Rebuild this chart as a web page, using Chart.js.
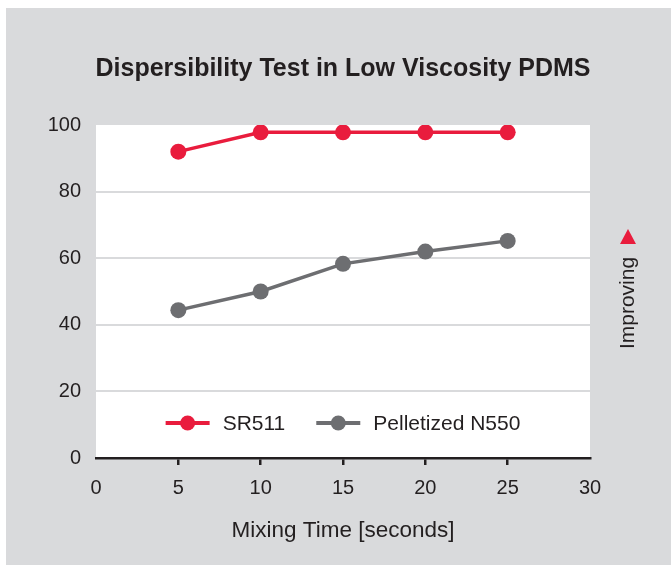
<!DOCTYPE html>
<html>
<head>
<meta charset="utf-8">
<script src="https://cdn.jsdelivr.net/npm/chart.js@4.4.1/dist/chart.umd.min.js"></script>
<style>
  html, body { margin: 0; padding: 0; background: #fff; }
  #panel { position: absolute; left: 6px; top: 8px; width: 665px; height: 557px; background: #d9dadc; }
  #panel canvas { display: block; }
</style>
</head>
<body>
<div id="panel"><canvas id="dispChart" width="665" height="557"></canvas></div>
<script>
const mixingTimes = [5, 10, 15, 20, 25];
const sr511 = [92, 97.8, 97.8, 97.8, 97.8];
const pelletizedN550 = [44.4, 50, 58.3, 62, 65.2];
const xTicks = [0, 5, 10, 15, 20, 25, 30];
const yTicks = [0, 20, 40, 60, 80, 100];
const chartTitle = "Dispersibility Test in Low Viscosity PDMS";

const red = "#e91c3d";
const grey = "#6d6e71";
const ink = "#231f20";
const gridGrey = "#d9dadc";
const fontFamily = "'Liberation Sans', Arial, Helvetica, sans-serif";

// white plot area on the grey panel, title centred over the plot
const plotBg = {
  id: "plotBg",
  beforeDraw(chart) {
    const { ctx, chartArea: a } = chart;
    ctx.save();
    ctx.fillStyle = "#fff";
    ctx.fillRect(a.left, a.top, a.right - a.left, a.bottom - a.top);
    ctx.font = `bold 25px ${fontFamily}`;
    ctx.fillStyle = ink;
    ctx.textAlign = "center";
    ctx.textBaseline = "middle";
    ctx.fillText(chartTitle, (a.left + a.right) / 2, 61);
    ctx.restore();
  },
};

// legend sits inside the plot, centred near the bottom
const innerLegend = {
  id: "innerLegend",
  afterDatasetsDraw(chart) {
    const { ctx, chartArea: a } = chart;
    const sets = chart.data.datasets;
    const lineLen = 44, gapText = 13, gapItem = 31;
    ctx.save();
    ctx.font = `21px ${fontFamily}`;
    ctx.textBaseline = "middle";
    const widths = sets.map((d) => lineLen + gapText + ctx.measureText(d.label).width);
    const total = widths.reduce((s, w) => s + w, 0) + gapItem * (sets.length - 1);
    let x = (a.left + a.right) / 2 - total / 2;
    const y = a.top + 298;
    sets.forEach((d, i) => {
      ctx.strokeStyle = d.borderColor;
      ctx.lineWidth = 4;
      ctx.beginPath();
      ctx.moveTo(x, y);
      ctx.lineTo(x + lineLen, y);
      ctx.stroke();
      ctx.fillStyle = d.borderColor;
      ctx.beginPath();
      ctx.arc(x + lineLen / 2, y, 7.5, 0, Math.PI * 2);
      ctx.fill();
      ctx.fillStyle = ink;
      ctx.fillText(d.label, x + lineLen + gapText, y + 1);
      x += widths[i] + gapItem;
    });
    ctx.restore();
  },
};

// "Improving" marker on the right
const improving = {
  id: "improving",
  afterDraw(chart) {
    const { ctx } = chart;
    const cx = 622;
    ctx.save();
    ctx.fillStyle = red;
    ctx.beginPath();
    ctx.moveTo(cx, 221);
    ctx.lineTo(cx + 8, 236);
    ctx.lineTo(cx - 8, 236);
    ctx.closePath();
    ctx.fill();
    ctx.translate(cx, 295);
    ctx.rotate(-Math.PI / 2);
    ctx.font = `21px ${fontFamily}`;
    ctx.fillStyle = ink;
    ctx.textAlign = "center";
    ctx.textBaseline = "middle";
    ctx.fillText("Improving", 0, 0);
    ctx.restore();
  },
};

new Chart(document.getElementById("dispChart"), {
  type: "line",
  data: {
    datasets: [
      {
        label: "SR511",
        data: mixingTimes.map((t, i) => ({ x: t, y: sr511[i] })),
        borderColor: red,
        backgroundColor: red,
        borderWidth: 3.5,
        pointRadius: 8,
        pointHoverRadius: 8,
        pointBorderWidth: 0,
      },
      {
        label: "Pelletized N550",
        data: mixingTimes.map((t, i) => ({ x: t, y: pelletizedN550[i] })),
        borderColor: grey,
        backgroundColor: grey,
        borderWidth: 3.5,
        pointRadius: 8,
        pointHoverRadius: 8,
        pointBorderWidth: 0,
      },
    ],
  },
  options: {
    responsive: false,
    animation: false,
    layout: { padding: { left: 0, right: 81, top: 117, bottom: 0 } },
    plugins: {
      legend: { display: false },
      tooltip: { enabled: false },
      title: { display: false },
    },
    scales: {
      x: {
        type: "linear",
        min: xTicks[0],
        max: xTicks[xTicks.length - 1],
        afterBuildTicks: (s) => { s.ticks = xTicks.map((v) => ({ value: v })); },
        afterFit: (s) => { s.height = 107; },
        border: { display: true, color: ink, width: 2.5 },
        grid: {
          drawOnChartArea: false,
          drawTicks: true,
          tickLength: 7,
          lineWidth: 2.5,
          color: (c) => (c.tick && c.tick.value > xTicks[0] && c.tick.value < xTicks[xTicks.length - 1] ? ink : "rgba(0,0,0,0)"),
        },
        ticks: { color: ink, padding: 11, font: { family: fontFamily, size: 20 }, maxRotation: 0 },
        title: {
          display: true,
          text: "Mixing Time [seconds]",
          color: ink,
          font: { family: fontFamily, size: 22.5 },
          padding: { top: 0, bottom: 21 },
        },
      },
      y: {
        min: yTicks[0],
        max: yTicks[yTicks.length - 1],
        afterBuildTicks: (s) => { s.ticks = yTicks.map((v) => ({ value: v })); },
        afterFit: (s) => { s.width = 90; },
        border: { display: false },
        grid: {
          drawTicks: false,
          lineWidth: 2,
          color: (c) => (c.tick && c.tick.value > yTicks[0] && c.tick.value < yTicks[yTicks.length - 1] ? gridGrey : "rgba(0,0,0,0)"),
        },
        ticks: { color: ink, padding: 15, font: { family: fontFamily, size: 20 } },
      },
    },
  },
  plugins: [plotBg, innerLegend, improving],
});
</script>
</body>
</html>
